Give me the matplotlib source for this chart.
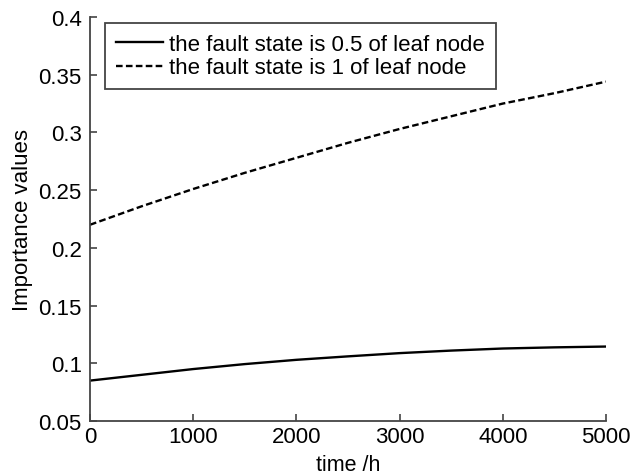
import matplotlib
matplotlib.use("Agg")
import matplotlib.pyplot as plt

plt.rcParams['font.family'] = ['Liberation Sans', 'DejaVu Sans']

# values
time_h = [0, 500, 1000, 1500, 2000, 2500, 3000, 3500, 4000, 4500, 5000]
half_fault = [0.085, 0.090, 0.095, 0.0993, 0.103, 0.106, 0.1088, 0.111, 0.1128, 0.1138, 0.1145]
full_fault = [0.220, 0.236, 0.251, 0.265, 0.278, 0.291, 0.303, 0.314, 0.325, 0.334, 0.344]

fig = plt.figure(figsize=(6.33, 4.77), dpi=100)
ax = fig.add_axes([90 / 633, 55 / 477, 516 / 633, 404 / 477])

ax.plot(time_h, half_fault, 'k-', lw=1.7, label="the fault state is 0.5 of leaf node")
ax.plot(time_h, full_fault, 'k--', lw=1.7, dashes=(2.8, 1.4), label="the fault state is 1 of leaf node")

ax.set_xlim(0, 5000)
ax.set_ylim(0.05, 0.4)
ax.set_xticks([0, 1000, 2000, 3000, 4000, 5000])
ax.set_yticks([0.05, 0.1, 0.15, 0.2, 0.25, 0.3, 0.35, 0.4])
ax.set_yticklabels(["0.05", "0.1", "0.15", "0.2", "0.25", "0.3", "0.35", "0.4"])
ax.tick_params(direction='in', length=5, width=1.2, labelsize=16, colors='#444444', labelcolor='black')
ax.tick_params(axis='y', pad=6)
ax.spines['top'].set_visible(False)
ax.spines['right'].set_visible(False)
for s in ('left', 'bottom'):
    ax.spines[s].set_color('#444444')
    ax.spines[s].set_linewidth(1.3)

ax.set_xlabel("time /h", fontsize=15.5, labelpad=5)
ax.set_ylabel("Importance values", fontsize=16, labelpad=4)

leg = ax.legend(loc='upper left', bbox_to_anchor=(15 / 516, 398 / 404), borderaxespad=0,
                fontsize=16, frameon=True, fancybox=False, handlelength=2.1,
                borderpad=0.5, labelspacing=0.1, handletextpad=0.3)
leg.get_frame().set_edgecolor('#444444')
leg.get_frame().set_linewidth(1.3)
leg.get_frame().set_alpha(1)

plt.savefig("out.png", dpi=100)
